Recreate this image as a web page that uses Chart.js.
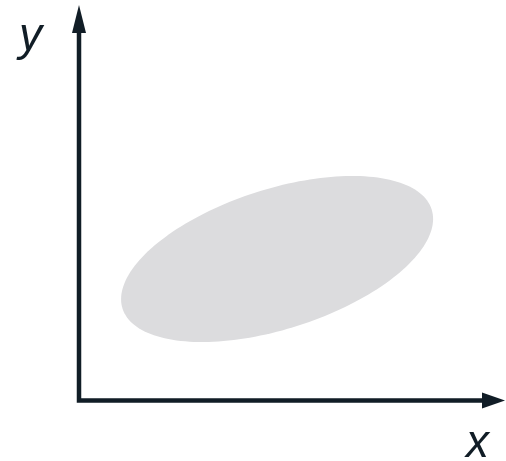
<!DOCTYPE html>
<html>
<head>
<meta charset="utf-8">
<script src="https://cdn.jsdelivr.net/npm/chart.js@4.4.1/dist/chart.umd.min.js"></script>
<style>
  html, body { margin: 0; padding: 0; background: #fff; }
  #wrap { width: 506px; height: 461px; }
</style>
</head>
<body>
<div id="wrap"><canvas id="chart"></canvas></div>
<script>
// Axis ranges (same units on both axes)
const xRange = [0, 10];
const yRange = [0, 9.28];
const axisLabels = ['x', 'y'];

// Ellipse, in axis units
const ellipseCenter = [4.65, 3.32];
const ellipseRadii = [3.81, 1.64];
const ellipseAngle = [17.8];

const INK = '#111d26';
const FILL = '#dcdcde';

const diagram = {
  id: 'diagram',
  beforeDatasetsDraw(chart) {
    const { ctx, chartArea: a, scales: { x, y } } = chart;
    // ellipse, traced through the scales
    const th = ellipseAngle[0] * Math.PI / 180;
    ctx.save();
    ctx.beginPath();
    for (let i = 0; i <= 180; i++) {
      const t = i / 180 * Math.PI * 2;
      const u = ellipseRadii[0] * Math.cos(t), v = ellipseRadii[1] * Math.sin(t);
      const px = x.getPixelForValue(ellipseCenter[0] + u * Math.cos(th) - v * Math.sin(th));
      const py = y.getPixelForValue(ellipseCenter[1] + u * Math.sin(th) + v * Math.cos(th));
      i ? ctx.lineTo(px, py) : ctx.moveTo(px, py);
    }
    ctx.closePath();
    ctx.fillStyle = FILL;
    ctx.fill();

    // axes with arrow heads
    const ox = x.getPixelForValue(xRange[0]), oy = y.getPixelForValue(yRange[0]);
    const tx = a.right, ty = a.top;
    ctx.strokeStyle = INK;
    ctx.fillStyle = INK;
    ctx.lineWidth = 4.5;
    ctx.lineJoin = 'miter';
    ctx.beginPath();
    ctx.moveTo(ox, ty + 26);
    ctx.lineTo(ox, oy);
    ctx.lineTo(tx - 21, oy);
    ctx.stroke();
    ctx.beginPath();
    ctx.moveTo(ox, ty); ctx.lineTo(ox - 7, ty + 28); ctx.lineTo(ox + 7, ty + 28); ctx.closePath();
    ctx.fill();
    ctx.beginPath();
    ctx.moveTo(tx, oy); ctx.lineTo(tx - 23, oy - 8); ctx.lineTo(tx - 23, oy + 8); ctx.closePath();
    ctx.fill();

    // axis names
    ctx.font = 'italic 46px "Liberation Sans", Arial, sans-serif';
    ctx.textBaseline = 'alphabetic';
    ctx.textAlign = 'left';
    ctx.fillText(axisLabels[1], ox - 60, ty + 45);
    ctx.fillText(axisLabels[0], tx - 39, oy + 56);
    ctx.restore();
  }
};

new Chart(document.getElementById('chart'), {
  type: 'scatter',
  data: { datasets: [{ data: [] }] },
  options: {
    responsive: true,
    maintainAspectRatio: false,
    animation: false,
    layout: { padding: { left: 79, right: 1, top: 5, bottom: 60.5 } },
    scales: {
      x: { type: 'linear', min: xRange[0], max: xRange[1], display: false },
      y: { type: 'linear', min: yRange[0], max: yRange[1], display: false }
    },
    plugins: { legend: { display: false }, tooltip: { enabled: false } }
  },
  plugins: [diagram]
});
</script>
</body>
</html>
